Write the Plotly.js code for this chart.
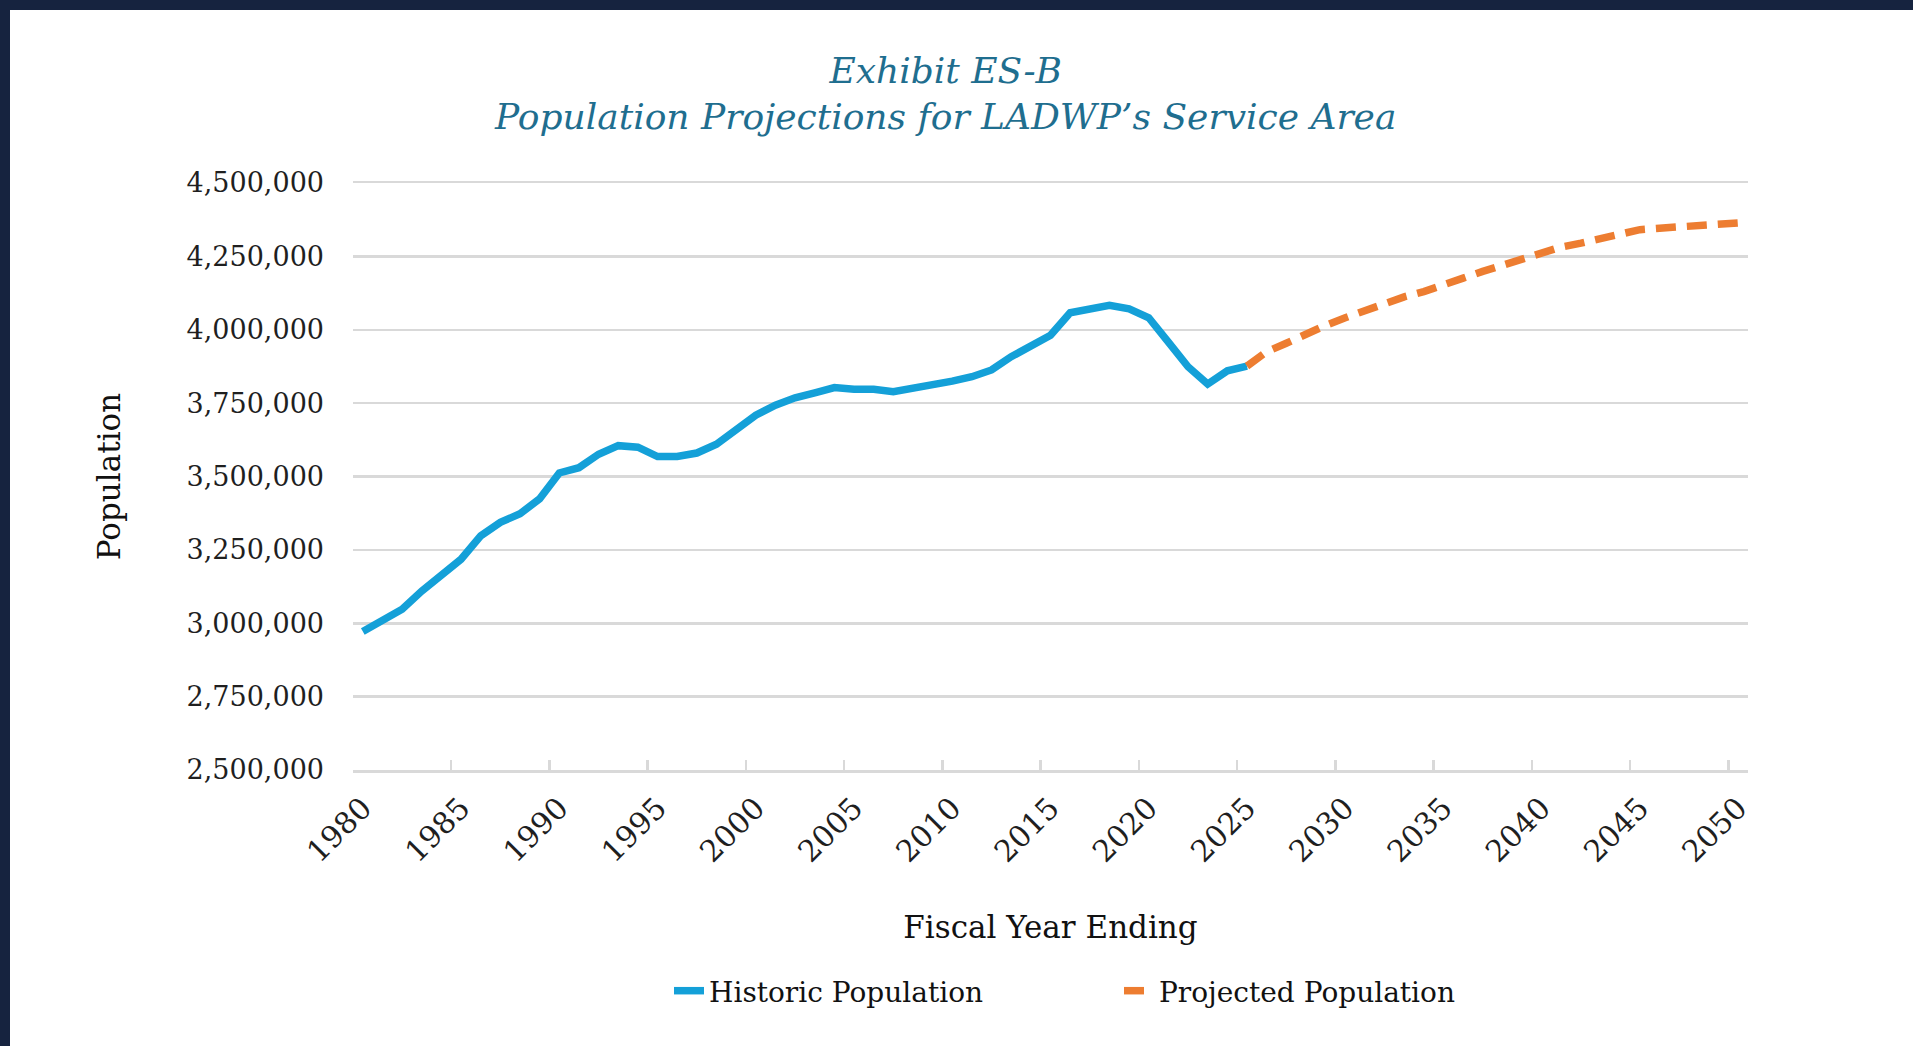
<!DOCTYPE html>
<html>
<head>
<meta charset="utf-8">
<script src="https://cdn.plot.ly/plotly-3.0.1.min.js"></script>
<style>
  html, body { margin: 0; padding: 0; background: #16233f; width: 1913px; height: 1046px; overflow: hidden; }
  #chart { position: absolute; left: 10px; top: 10px; width: 1903px; height: 1036px; background: #ffffff; }
</style>
</head>
<body>
<div id="chart"></div>
<script>
const historicYears = [1980,1981,1982,1983,1984,1985,1986,1987,1988,1989,1990,1991,1992,1993,1994,1995,1996,1997,1998,1999,2000,2001,2002,2003,2004,2005,2006,2007,2008,2009,2010,2011,2012,2013,2014,2015,2016,2017,2018,2019,2020,2021,2022,2023,2024,2025];
const historicPop = [2972000,3008000,3048000,3110000,3162000,3218000,3298000,3344000,3373000,3424000,3512000,3530000,3576000,3605000,3600000,3568000,3568000,3580000,3610000,3660000,3709000,3743000,3768000,3785000,3803000,3797000,3797000,3789000,3800000,3808000,3825000,3840000,3863000,3908000,3942000,3981000,4058000,4070000,4083000,4071000,4041000,3958000,3874000,3815000,3860000,3876000];
const projectedYears = [2025,2026,2027,2028,2029,2030,2031,2032,2033,2034,2035,2036,2037,2038,2039,2040,2041,2042,2043,2044,2045,2046,2047,2048,2049,2050];
const projectedPop = [3876000,3925000,3954000,3988000,4015000,4041000,4066000,4089000,4112000,4130000,4150000,4176000,4199000,4221000,4240000,4266000,4282000,4295000,4312000,4327000,4341000,4346000,4350000,4352000,4355000,4364000];
const seriesNames = ["Historic Population", "Projected Population"];
const titleLines = ["Exhibit ES-B", "Population Projections for LADWP\u2019s Service Area"];
const xTitle = "Fiscal Year Ending";
const yTitle = "Population";

const firstYear = historicYears[0];
const lastYear = projectedYears[projectedYears.length - 1];
const xRange = [firstYear - 0.5, lastYear + 0.5];

const serif = "DejaVu Serif, Liberation Serif, serif";
const gridCol = "#d9d9d9";

const traces = [
  {
    x: historicYears, y: historicPop, name: seriesNames[0],
    type: "scatter", mode: "lines",
    line: { color: "#14a0d8", width: 7.5 },
    hoverinfo: "x+y"
  },
  {
    x: projectedYears, y: projectedPop, name: seriesNames[1],
    type: "scatter", mode: "lines",
    line: { color: "#ed7d31", width: 7.5, dash: "20px,11px" },
    hoverinfo: "x+y"
  },
  {
    // invisible helper on the overlay axis that draws category-boundary tick marks
    x: historicYears, y: historicPop, xaxis: "x2", yaxis: "y",
    type: "scatter", mode: "lines", line: { width: 0, color: "rgba(0,0,0,0)" },
    showlegend: false, hoverinfo: "skip"
  }
];

const layout = {
  width: 1903, height: 1036,
  paper_bgcolor: "#ffffff", plot_bgcolor: "#ffffff",
  margin: { l: 343, r: 165, t: 173, b: 276, pad: 0 },
  title: {
    text: titleLines.join("<br>"),
    font: { family: serif, size: 36, color: "#1f6e8f", style: "italic" },
    x: 0.4917, xanchor: "center", xref: "container",
    y: 0.930, yanchor: "middle", yref: "container"
  },
  xaxis: {
    range: xRange, tick0: firstYear, dtick: 5, tickmode: "linear",
    tickangle: -45, ticks: "", ticklabelstandoff: 6, showgrid: false, zeroline: false,
    showline: true, mirror: true, linecolor: gridCol, linewidth: 2.5,
    tickfont: { family: serif, size: 30, color: "#1f1f1f" },
    title: { text: xTitle, font: { family: serif, size: 31, color: "#111111" }, standoff: 48 }
  },
  xaxis2: {
    range: xRange, overlaying: "x", anchor: "y", side: "bottom",
    tick0: firstYear - 0.5, dtick: 5, tickmode: "linear",
    ticks: "inside", ticklen: 10, tickwidth: 2.5, tickcolor: gridCol,
    showticklabels: false, showgrid: false, zeroline: false, showline: false
  },
  yaxis: {
    range: [2500000, 4500000], dtick: 250000, tick0: 2500000, tickmode: "linear",
    tickformat: ",d", ticks: "", ticklabelstandoff: 28,
    showgrid: true, gridcolor: gridCol, gridwidth: 2.5, zeroline: false, showline: false,
    tickfont: { family: serif, size: 27, color: "#1f1f1f" },
    title: { text: yTitle, font: { family: serif, size: 31, color: "#111111" }, standoff: 56 }
  },
  showlegend: true,
  legend: {
    orientation: "h", x: 0.3463, xanchor: "left", xref: "container",
    y: 0.0531, yanchor: "middle", yref: "container",
    font: { family: serif, size: 28, color: "#111111" },
    entrywidth: 405, entrywidthmode: "pixels", itemwidth: 30, traceorder: "normal", bgcolor: "rgba(0,0,0,0)"
  },
  hovermode: false
};

Plotly.newPlot("chart", traces, layout, { displayModeBar: false, staticPlot: true });
</script>
</body>
</html>
